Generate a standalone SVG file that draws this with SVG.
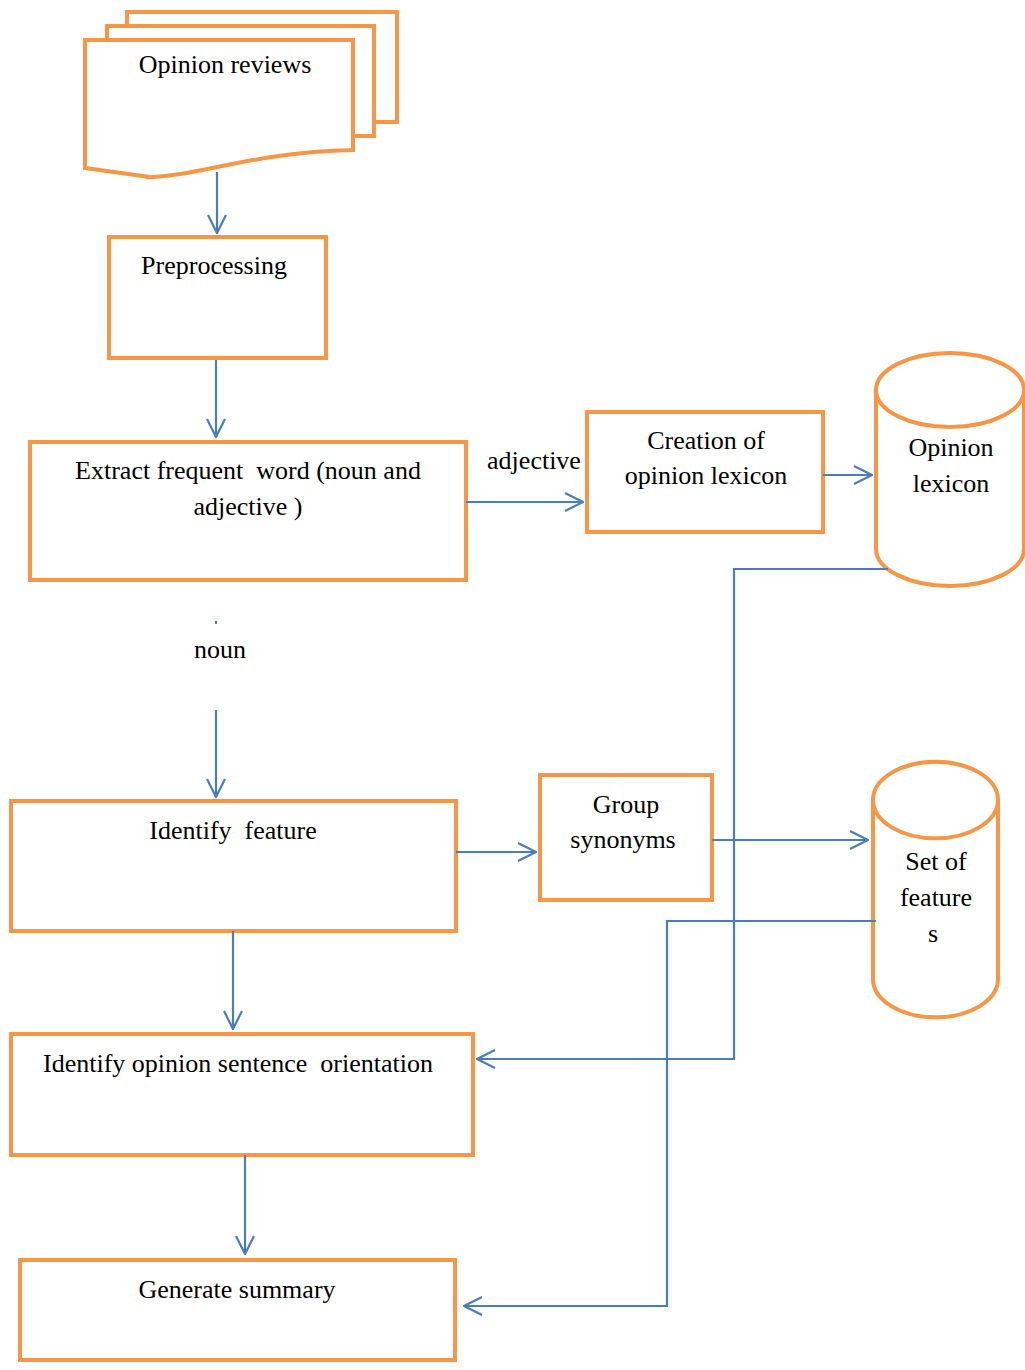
<svg xmlns="http://www.w3.org/2000/svg" width="1025" height="1370" viewBox="0 0 1025 1370">
  <style>
    .box { fill: #ffffff; stroke: #f79646; stroke-width: 4; }
    .lbl { font-family: "Liberation Serif", "Times New Roman", serif; font-size: 26px; fill: #000000; text-anchor: middle; white-space: pre; }
    .wire { fill: none; stroke: #4a7ebb; stroke-width: 2.2; }
  </style>
  <defs>
    <marker id="open" viewBox="0 0 20 20" refX="19" refY="10" markerWidth="20" markerHeight="20" markerUnits="userSpaceOnUse" orient="auto">
      <path d="M1,1 L19,10 L1,19" fill="none" stroke="#4a7ebb" stroke-width="2.2"/>
    </marker>
  </defs>
  <rect width="1025" height="1370" fill="#ffffff"/>

  <!-- stacked documents -->
  <g id="opinion-reviews">
    <path class="box" d="M127,12 H397 V122 H374 V30 H127 Z"/>
    <path class="box" d="M107,26 H374 V136 H353 V42 H107 Z"/>
    <path class="box" d="M85,40 H353 V150 C270,152 220,168 180,174 C160,177 140,178 150,177 L85,168 Z"/>
    <text class="lbl" x="225" y="73">Opinion reviews</text>
  </g>

  <g id="preprocessing">
    <rect class="box" x="109" y="237" width="217" height="121"/>
    <text class="lbl" x="214" y="274">Preprocessing</text>
  </g>

  <g id="extract-words">
    <rect class="box" x="30" y="442" width="436" height="138"/>
    <text class="lbl" x="248" y="479" xml:space="preserve">Extract frequent  word (noun and</text>
    <text class="lbl" x="248" y="515">adjective )</text>
  </g>

  <g id="creation-lexicon">
    <rect class="box" x="587" y="412" width="236" height="120"/>
    <text class="lbl" x="706" y="449">Creation of</text>
    <text class="lbl" x="706" y="484">opinion lexicon</text>
  </g>

  <g id="opinion-lexicon">
    <path class="box" d="M876,390 A74,37 0 0 1 1024,390 V549 A74,37 0 0 1 876,549 Z"/>
    <path class="box" fill="none" d="M876,390 A74,37 0 0 0 1024,390"/>
    <text class="lbl" x="951" y="456">Opinion</text>
    <text class="lbl" x="951" y="492">lexicon</text>
  </g>

  <g id="identify-feature">
    <rect class="box" x="11" y="801" width="445" height="130"/>
    <text class="lbl" x="233" y="839" xml:space="preserve">Identify  feature</text>
  </g>

  <g id="group-synonyms">
    <rect class="box" x="540" y="775" width="172" height="125"/>
    <text class="lbl" x="626" y="813">Group</text>
    <text class="lbl" x="623" y="848">synonyms</text>
  </g>

  <g id="set-of-features">
    <path class="box" d="M873,800 A62,38 0 0 1 998,800 V979 A62,38 0 0 1 873,979 Z"/>
    <path class="box" fill="none" d="M873,800 A62,38 0 0 0 998,800"/>
    <text class="lbl" x="936" y="870">Set of</text>
    <text class="lbl" x="936" y="906">feature</text>
    <text class="lbl" x="933" y="942">s</text>
  </g>

  <g id="sentence-orientation">
    <rect class="box" x="11" y="1034" width="462" height="121"/>
    <text class="lbl" x="238" y="1072" xml:space="preserve">Identify opinion sentence  orientation</text>
  </g>

  <g id="generate-summary">
    <rect class="box" x="20" y="1260" width="435" height="100"/>
    <text class="lbl" x="237" y="1298">Generate summary</text>
  </g>

  <!-- connectors -->
  <g id="connectors">
    <path class="wire" d="M217,172 V233" marker-end="url(#open)"/>
    <path class="wire" d="M216,360 V437" marker-end="url(#open)"/>
    <path class="wire" d="M466,502 H583" marker-end="url(#open)"/>
    <text class="lbl" x="534" y="469">adjective</text>
    <path class="wire" d="M823,475 H872" marker-end="url(#open)"/>
    <path class="wire" d="M216,621 V624"/>
    <text class="lbl" x="220" y="658">noun</text>
    <path class="wire" d="M216,710 V797" marker-end="url(#open)"/>
    <path class="wire" d="M456,852 H536" marker-end="url(#open)"/>
    <path class="wire" d="M712,840 H868" marker-end="url(#open)"/>
    <path class="wire" d="M888,569 H734 V1059 H477" marker-end="url(#open)"/>
    <path class="wire" d="M876,921 H667 V1306 H464" marker-end="url(#open)"/>
    <path class="wire" d="M233,931 V1029" marker-end="url(#open)"/>
    <path class="wire" d="M245,1155 V1254" marker-end="url(#open)"/>
  </g>
</svg>
